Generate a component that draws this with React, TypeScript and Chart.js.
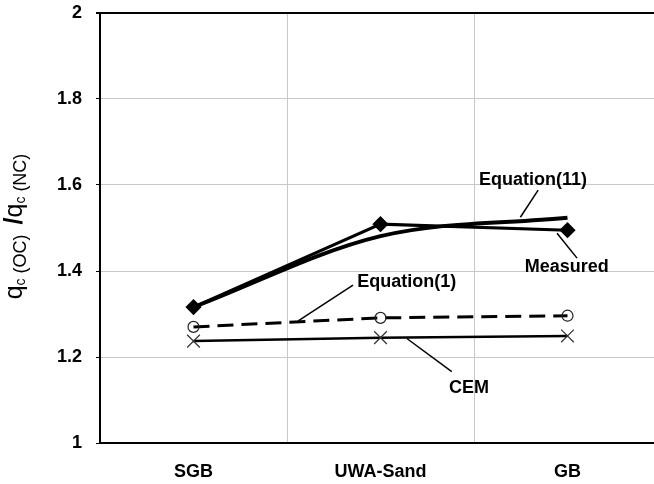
import React, { useEffect, useRef } from "react";
import { Chart, registerables } from "chart.js";

Chart.register(...registerables);

const categories = ["SGB", "UWA-Sand", "GB"];
const measured = [1.316, 1.509, 1.495];
const equation11 = [1.316, 1.481, 1.524];
const equation1 = [1.27, 1.291, 1.296];
const cem = [1.237, 1.245, 1.249];
const yTicks = [1, 1.2, 1.4, 1.6, 1.8, 2];

// annotation labels (data coordinates: category index, value)
const annTexts = ["Equation(11)", "Measured", "Equation(1)", "CEM"];
const annTextX = [1.815, 1.996, 1.14, 1.473];
const annTextY = [1.6, 1.398, 1.362, 1.116];
const annLineX1 = [1.843, 1.944, 0.853, 1.141];
const annLineY1 = [1.588, 1.488, 1.367, 1.243];
const annLineX2 = [1.748, 2.051, 0.56, 1.381];
const annLineY2 = [1.525, 1.43, 1.284, 1.166];

const FONT = "'Liberation Sans', Arial, sans-serif";

const annotationPlugin = {
  id: "annotations",
  afterDatasetsDraw(chart: any) {
    const { ctx, scales } = chart;
    const xs = scales.x;
    const ys = scales.y;
    ctx.save();
    ctx.strokeStyle = "#000";
    ctx.lineWidth = 1.5;
    for (let i = 0; i < annTexts.length; i++) {
      ctx.beginPath();
      ctx.moveTo(xs.getPixelForValue(annLineX1[i]), ys.getPixelForValue(annLineY1[i]));
      ctx.lineTo(xs.getPixelForValue(annLineX2[i]), ys.getPixelForValue(annLineY2[i]));
      ctx.stroke();
    }
    ctx.fillStyle = "#000";
    ctx.font = `bold 18px ${FONT}`;
    ctx.textAlign = "center";
    ctx.textBaseline = "alphabetic";
    for (let i = 0; i < annTexts.length; i++) {
      ctx.fillText(annTexts[i], xs.getPixelForValue(annTextX[i]), ys.getPixelForValue(annTextY[i]));
    }
    ctx.restore();
  },
};

const titlePlugin = {
  id: "ytitle",
  afterDraw(chart: any) {
    const { ctx, scales } = chart;
    const ys = scales.y;
    const parts: [string, number, number, boolean][] = [
      ["q", 25, 0, false],
      ["c", 14, 3, false],
      [" (OC)  ", 18, 4, false],
      ["/", 25, 0, true],
      ["q", 25, 0, false],
      ["c", 14, 3, false],
      [" (NC)", 18, 4, false],
    ];
    ctx.save();
    ctx.fillStyle = "#000";
    ctx.textBaseline = "alphabetic";
    ctx.textAlign = "left";
    let total = 0;
    for (const p of parts) {
      ctx.font = `${p[3] ? "bold " : ""}${p[1]}px ${FONT}`;
      total += ctx.measureText(p[0]).width;
    }
    const cy = (ys.top + ys.bottom) / 2 - 1.5;
    ctx.translate(22, cy + total / 2);
    ctx.rotate(-Math.PI / 2);
    let x = 0;
    for (const p of parts) {
      ctx.font = `${p[3] ? "bold " : ""}${p[1]}px ${FONT}`;
      ctx.fillText(p[0], x, p[2]);
      x += ctx.measureText(p[0]).width;
    }
    ctx.restore();
  },
};

const zeroPad = (s: any) => {
  s.paddingTop = 0;
  s.paddingBottom = 0;
  s.paddingLeft = 0;
  s.paddingRight = 0;
};

export default function App() {
  const ref = useRef<HTMLCanvasElement | null>(null);
  useEffect(() => {
    if (!ref.current) return;
    const chart = new Chart(ref.current, {
      type: "line",
      data: {
        labels: categories,
        datasets: [
          {
            label: "Measured",
            data: measured,
            borderColor: "#000",
            backgroundColor: "#000",
            borderWidth: 3,
            pointStyle: "rectRot",
            pointRadius: 6,
            pointBackgroundColor: "#000",
            pointBorderColor: "#000",
            tension: 0,
          },
          {
            label: "Equation(11)",
            data: equation11,
            borderColor: "#000",
            borderWidth: 4,
            pointRadius: 0,
            cubicInterpolationMode: "monotone",
          },
          {
            label: "Equation(1)",
            data: equation1,
            borderColor: "#000",
            borderWidth: 3,
            borderDash: [16, 8],
            pointStyle: "circle",
            pointRadius: 5.5,
            pointBorderWidth: 1.2,
            pointBorderColor: "#222",
            pointBackgroundColor: "rgba(255,255,255,0)",
          },
          {
            label: "CEM",
            data: cem,
            borderColor: "#000",
            borderWidth: 2.5,
            pointStyle: "crossRot",
            pointRadius: 9,
            pointBorderWidth: 1.2,
            pointBorderColor: "#333",
          },
        ],
      },
      options: {
        animation: false,
        responsive: false,
        devicePixelRatio: 1,
        layout: { autoPadding: false, padding: { top: 13, left: 0, right: 0, bottom: 0 } },
        plugins: { legend: { display: false }, tooltip: { enabled: false } },
        scales: {
          x: {
            type: "category",
            offset: true,
            grid: {
              offset: true,
              color: "#c8c8c8",
              lineWidth: 1,
              drawTicks: false,
            },
            border: { color: "#000", width: 2 },
            ticks: {
              color: "#000",
              padding: 18,
              font: { family: FONT, size: 18, weight: "bold" },
            },
            afterFit: (s: any) => {
              s.height = 41;
              zeroPad(s);
            },
          },
          y: {
            min: 1,
            max: 2,
            afterBuildTicks: (s: any) => {
              s.ticks = yTicks.map((v) => ({ value: v }));
            },
            grid: {
              color: (c: any) => (c.tick && c.tick.value === 2 ? "#000" : "#c8c8c8"),
              lineWidth: (c: any) => (c.tick && c.tick.value === 2 ? 2 : 1),
              tickColor: "#000",
              tickLength: 4,
            },
            border: { color: "#000", width: 2 },
            ticks: {
              color: "#000",
              padding: 14,
              font: { family: FONT, size: 18, weight: "bold" },
              callback: (v: any) => String(Math.round(Number(v) * 10) / 10),
            },
            afterFit: (s: any) => {
              s.width = 100;
              zeroPad(s);
            },
          },
        },
      },
      plugins: [annotationPlugin, titlePlugin],
    } as any);
    return () => chart.destroy();
  }, []);
  return (
    <div
      style={{
        position: "absolute",
        left: 0,
        top: 0,
        width: 654,
        height: 484,
        overflow: "hidden",
        background: "#fff",
      }}
    >
      <canvas ref={ref} width={661} height={484} style={{ display: "block" }} />
    </div>
  );
}
